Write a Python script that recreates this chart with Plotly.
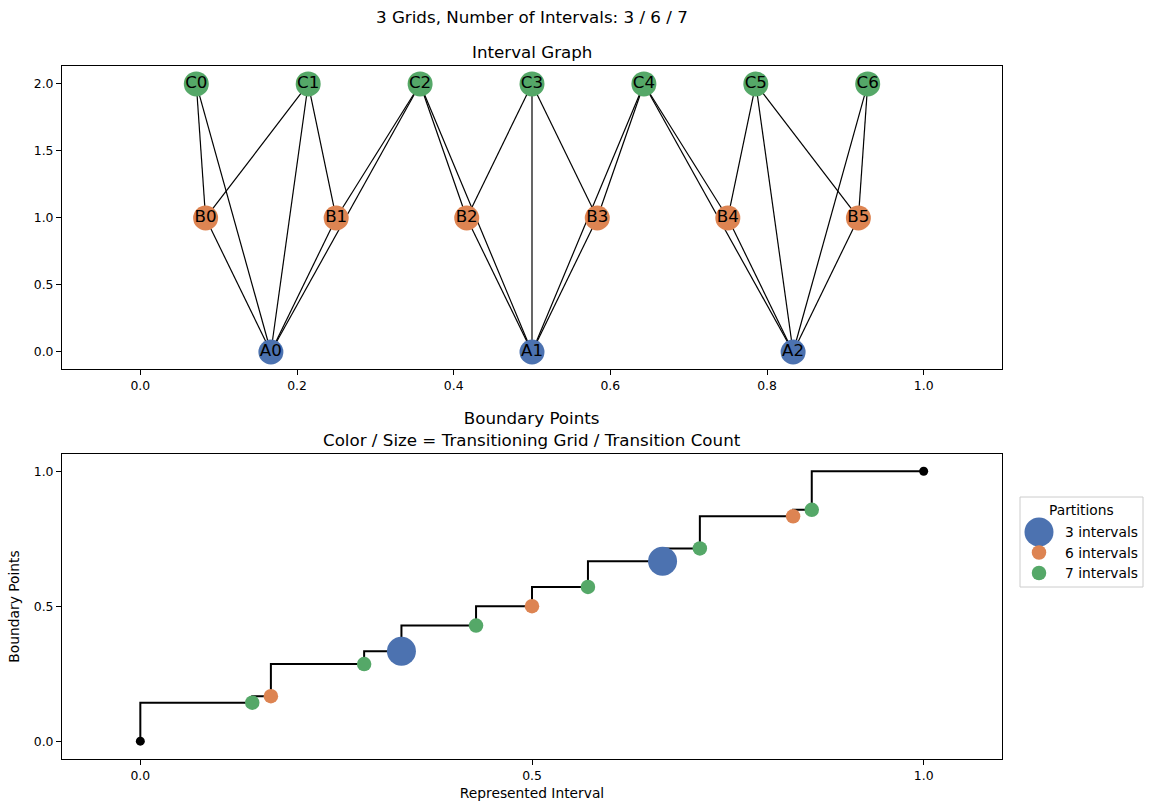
import plotly.graph_objects as go
from fractions import Fraction

# ---------------- data ----------------
grid_names = ["A", "B", "C"]
n_intervals = [3, 6, 7]
grid_colors = ["#4C72B0", "#DD8452", "#55A868"]
legend_labels = ["3 intervals", "6 intervals", "7 intervals"]
level_y = [0, 1, 2]
x_ticks_top = [0.0, 0.2, 0.4, 0.6, 0.8, 1.0]
y_ticks_top = [0.0, 0.5, 1.0, 1.5, 2.0]
x_ticks_bottom = [0.0, 0.5, 1.0]
y_ticks_bottom = [0.0, 0.5, 1.0]

FONT = "DejaVu Sans"
W, H = 1158, 811
L, R, T, B = 62, 156, 66, 52
PW, PH = W - L - R, H - T - B

# intervals of each grid
intervals = []
for g, n in enumerate(n_intervals):
    for k in range(n):
        intervals.append((g, k, Fraction(k, n), Fraction(k + 1, n)))

# boundary points and which grids transition there
bmap = {}
for g, n in enumerate(n_intervals):
    for k in range(1, n):
        bmap.setdefault(Fraction(k, n), []).append(g)
boundaries = sorted(bmap)
all_pts = [Fraction(0)] + boundaries + [Fraction(1)]

fig = go.Figure()

# ---------------- top: interval graph ----------------
ex, ey = [], []
for i in range(len(intervals)):
    for j in range(i + 1, len(intervals)):
        gi, ki, a0, a1 = intervals[i]
        gj, kj, b0, b1 = intervals[j]
        if gi == gj:
            continue
        if max(a0, b0) < min(a1, b1):
            ex += [float((a0 + a1) / 2), float((b0 + b1) / 2), None]
            ey += [level_y[gi], level_y[gj], None]
fig.add_trace(go.Scatter(x=ex, y=ey, mode="lines", line=dict(color="black", width=1.2),
                         xaxis="x", yaxis="y", showlegend=False, hoverinfo="skip"))
for g, n in enumerate(n_intervals):
    xs = [float(Fraction(2 * k + 1, 2 * n)) for k in range(n)]
    fig.add_trace(go.Scatter(
        x=xs, y=[level_y[g]] * n, mode="markers+text",
        text=[f"{grid_names[g]}{k}" for k in range(n)], textposition="middle center",
        textfont=dict(family=FONT, size=16.7, color="black"),
        marker=dict(size=25, color=grid_colors[g], opacity=1, line=dict(width=0)),
        xaxis="x", yaxis="y", showlegend=False))

# ---------------- bottom: boundary points ----------------
fig.add_trace(go.Scatter(x=[float(p) for p in all_pts], y=[float(p) for p in all_pts],
                         mode="lines", line=dict(color="black", width=2, shape="vh"),
                         xaxis="x2", yaxis="y2", showlegend=False))
fig.add_trace(go.Scatter(x=[0.0, 1.0], y=[0.0, 1.0], mode="markers",
                         marker=dict(size=9, color="black", opacity=1), xaxis="x2", yaxis="y2",
                         showlegend=False))
SIZE_PER_COUNT = 14.5
for g in range(len(n_intervals)):
    pts = [p for p in boundaries if bmap[p][0] == g]
    fig.add_trace(go.Scatter(
        x=[float(p) for p in pts], y=[float(p) for p in pts], mode="markers",
        marker=dict(size=[SIZE_PER_COUNT * len(bmap[p]) for p in pts], color=grid_colors[g],
                    opacity=1, line=dict(width=0)),
        name=legend_labels[g], xaxis="x2", yaxis="y2", showlegend=False))

# ---------------- custom legend (matches scatter sizes) ----------------
def px(x):
    return (x - L) / PW
def py(y):
    return (H - B - y) / PH

shapes = [dict(type="rect", xref="paper", yref="paper", x0=px(1020), x1=px(1143),
               y0=py(587), y1=py(497), line=dict(color="#cccccc", width=1),
               fillcolor="white", layer="above")]
annotations = [dict(text="Partitions", xref="paper", yref="paper", x=px(1081), y=py(510),
                    xanchor="center", yanchor="middle", showarrow=False,
                    font=dict(family=FONT, size=13.8, color="black"))]
max_count = [max(len(bmap[p]) for p in boundaries if bmap[p][0] == g) for g in range(3)]
legend_rows = [532, 552.5, 573]
for g in range(3):
    cy = legend_rows[g]
    r = SIZE_PER_COUNT * max_count[g] / 2
    shapes.append(dict(type="circle", xref="paper", yref="paper",
                       x0=px(1039 - r), x1=px(1039 + r), y0=py(cy + r), y1=py(cy - r),
                       fillcolor=grid_colors[g], line=dict(width=0), layer="above"))
    annotations.append(dict(text=legend_labels[g], xref="paper", yref="paper",
                            x=px(1063), y=py(cy), xanchor="left", yanchor="middle",
                            showarrow=False,
                            font=dict(family=FONT, size=13.8, color="black")))

# titles
annotations += [
    dict(text="3 Grids, Number of Intervals: 3 / 6 / 7", xref="paper", yref="paper",
         x=0.5, y=py(17), xanchor="center", yanchor="middle", showarrow=False,
         font=dict(family=FONT, size=16.7, color="black")),
    dict(text="Interval Graph", xref="paper", yref="paper", x=0.5, y=py(52),
         xanchor="center", yanchor="middle", showarrow=False,
         font=dict(family=FONT, size=16.7, color="black")),
    dict(text="Boundary Points<br>Color / Size = Transitioning Grid / Transition Count",
         xref="paper", yref="paper", x=0.5, y=py(429), xanchor="center", yanchor="middle",
         showarrow=False, font=dict(family=FONT, size=16.7, color="black")),
]

axis_common = dict(showline=True, mirror=True, linecolor="black", linewidth=1,
                   ticks="outside", ticklen=5, tickcolor="black", showgrid=False,
                   zeroline=False, tickfont=dict(family=FONT, size=12.4, color="black"))

fig.update_layout(
    width=W, height=H, margin=dict(l=L, r=R, t=T, b=B),
    paper_bgcolor="white", plot_bgcolor="white", showlegend=False,
    font=dict(family=FONT, color="black"),
    xaxis=dict(domain=[0, 1], range=[-0.1, 1.1], anchor="y", tickvals=x_ticks_top,
               tickformat=".1f", **axis_common),
    yaxis=dict(domain=[py(369), 1], range=[-0.127, 2.134], anchor="x", tickvals=y_ticks_top,
               tickformat=".1f", **axis_common),
    xaxis2=dict(domain=[0, 1], range=[-0.1, 1.1], anchor="y2", tickvals=x_ticks_bottom,
                tickformat=".1f", title=dict(text="Represented Interval",
                                              font=dict(family=FONT, size=13.8), standoff=6),
                **axis_common),
    yaxis2=dict(domain=[0, py(454)], range=[-0.066, 1.064], anchor="x2",
                tickvals=y_ticks_bottom, tickformat=".1f",
                title=dict(text="Boundary Points", font=dict(family=FONT, size=13.8), standoff=10),
                **axis_common),
    shapes=shapes, annotations=annotations,
)

fig.write_html("out.html")
